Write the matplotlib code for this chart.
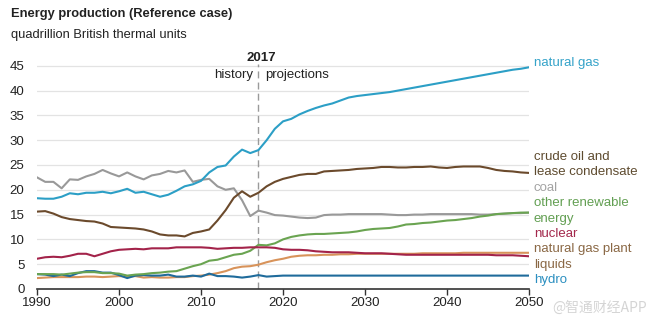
import matplotlib
matplotlib.use("Agg")
import matplotlib.pyplot as plt
import numpy as np

plt.rcParams['font.family'] = ['Liberation Sans', 'DejaVu Sans']

years = list(range(1990, 2051))

natural_gas = [18.3, 18.2, 18.2, 18.6, 19.3, 19.1, 19.4, 19.4, 19.6, 19.3,
               19.7, 20.2, 19.4, 19.6, 19.1, 18.6, 19.0, 19.8, 20.7, 21.1,
               21.8, 23.5, 24.6, 24.9, 26.7, 28.1, 27.4, 28.0,
               30.0, 32.3, 33.8, 34.3, 35.2, 35.9, 36.5, 37.0, 37.4, 38.0,
               38.6, 38.9, 39.1, 39.3, 39.5, 39.7, 40.0, 40.3, 40.6, 40.9,
               41.2, 41.5, 41.8, 42.1, 42.4, 42.7, 43.0, 43.3, 43.6, 43.9,
               44.2, 44.4, 44.7]

crude_oil = [15.6, 15.7, 15.2, 14.5, 14.1, 13.9, 13.7, 13.6, 13.2, 12.5,
             12.4, 12.3, 12.2, 12.0, 11.6, 11.0, 10.8, 10.8, 10.6, 11.3,
             11.6, 12.0, 13.8, 15.9, 18.4, 19.7, 18.6, 19.4,
             20.7, 21.6, 22.2, 22.6, 23.0, 23.2, 23.2, 23.7, 23.8, 23.9,
             24.0, 24.2, 24.3, 24.4, 24.6, 24.6, 24.5, 24.5, 24.6, 24.6,
             24.7, 24.5, 24.4, 24.6, 24.7, 24.7, 24.7, 24.4, 24.0, 23.8,
             23.7, 23.5, 23.4]

coal = [22.5, 21.6, 21.6, 20.3, 22.1, 22.0, 22.7, 23.2, 24.0, 23.3,
        22.7, 23.5, 22.7, 22.1, 22.9, 23.2, 23.8, 23.5, 23.9, 21.6,
        22.0, 22.2, 20.7, 20.0, 20.3, 17.9, 14.7, 15.8,
        15.4, 14.9, 14.8, 14.6, 14.4, 14.3, 14.4, 14.9, 15.0, 15.0,
        15.1, 15.1, 15.1, 15.1, 15.1, 15.0, 14.9, 14.9, 15.0, 15.0,
        15.1, 15.1, 15.1, 15.1, 15.1, 15.1, 15.0, 15.0, 15.1, 15.2,
        15.3, 15.3, 15.4]

other_renewable = [3.0, 3.0, 3.0, 2.9, 3.1, 3.3, 3.4, 3.4, 3.2, 3.2,
                   3.1, 2.7, 2.9, 3.0, 3.2, 3.3, 3.5, 3.6, 4.1, 4.6,
                   5.0, 5.7, 5.9, 6.4, 6.9, 7.1, 7.7, 8.9,
                   8.8, 9.2, 10.0, 10.5, 10.8, 11.0, 11.1, 11.1, 11.2, 11.3,
                   11.4, 11.6, 11.9, 12.1, 12.2, 12.3, 12.6, 13.0, 13.1, 13.3,
                   13.4, 13.6, 13.8, 13.9, 14.1, 14.3, 14.6, 14.8, 15.1, 15.2,
                   15.3, 15.4, 15.4]

nuclear = [6.1, 6.4, 6.5, 6.4, 6.7, 7.1, 7.1, 6.6, 7.1, 7.6,
           7.9, 8.0, 8.1, 8.0, 8.2, 8.2, 8.2, 8.4, 8.4, 8.4,
           8.4, 8.3, 8.1, 8.2, 8.3, 8.3, 8.4, 8.4,
           8.4, 8.3, 8.0, 7.9, 7.9, 7.8, 7.6, 7.5, 7.4, 7.4,
           7.4, 7.3, 7.2, 7.2, 7.2, 7.1, 7.0, 6.9, 6.9, 6.9,
           6.9, 6.9, 6.9, 6.9, 6.9, 6.9, 6.9, 6.9, 6.8, 6.8,
           6.8, 6.7, 6.6]

ngpl = [2.2, 2.3, 2.4, 2.4, 2.4, 2.4, 2.5, 2.5, 2.4, 2.5,
        2.6, 2.5, 2.6, 2.3, 2.4, 2.3, 2.3, 2.4, 2.4, 2.6,
        2.7, 2.9, 3.2, 3.6, 4.2, 4.5, 4.6, 4.9,
        5.4, 5.8, 6.1, 6.5, 6.7, 6.8, 6.8, 6.9, 6.9, 7.0,
        7.0, 7.1, 7.1, 7.1, 7.1, 7.1, 7.1, 7.1, 7.1, 7.2,
        7.2, 7.2, 7.2, 7.2, 7.3, 7.3, 7.3, 7.3, 7.3, 7.3,
        7.3, 7.3, 7.3]

hydro = [3.0, 2.9, 2.6, 2.9, 2.6, 3.2, 3.6, 3.6, 3.3, 3.3,
         2.8, 2.2, 2.7, 2.8, 2.7, 2.7, 2.9, 2.5, 2.5, 2.7,
         2.5, 3.1, 2.6, 2.6, 2.5, 2.3, 2.5, 2.8,
         2.5, 2.6, 2.7, 2.7, 2.7, 2.7, 2.7, 2.7, 2.7, 2.7,
         2.7, 2.7, 2.7, 2.7, 2.7, 2.7, 2.7, 2.7, 2.7, 2.7,
         2.7, 2.7, 2.7, 2.7, 2.7, 2.7, 2.7, 2.7, 2.7, 2.7,
         2.7, 2.7, 2.7]

series = [
    (natural_gas, '#2c9fc6'),
    (crude_oil, '#6b4a2c'),
    (coal, '#999999'),
    (other_renewable, '#6aa451'),
    (nuclear, '#a3234a'),
    (ngpl, '#d8935a'),
    (hydro, '#1f6b9b'),
]
labels = [
    ('natural gas', '#35a3c9', 45.6),
    ('crude oil and', '#5e4b2f', 26.6),
    ('lease condensate', '#5e4b2f', 23.5),
    ('coal', '#a3a3a3', 20.4),
    ('other renewable', '#629f52', 17.3),
    ('energy', '#629f52', 14.2),
    ('nuclear', '#a3284c', 11.1),
    ('natural gas plant', '#8a6845', 8.0),
    ('liquids', '#8a6845', 4.9),
    ('hydro', '#2b8fc0', 1.8),
]

fig = plt.figure(figsize=(6.53, 3.22), dpi=100)
ax = fig.add_axes([0.0567, 0.1025, 0.7535, 0.724])
ax.set_xlim(1990, 2050)
ax.set_ylim(0, 47)

for y in range(5, 50, 5):
    ax.axhline(y, color='#e3e3e3', lw=0.9, zorder=0)

order = [2, 5, 6, 3, 4, 1, 0]
for i in order:
    vals, col = series[i]
    ax.plot(years, vals, color=col, lw=1.5, zorder=3, solid_joinstyle='round')

ax.plot([2017, 2017], [0, 45.3], color='#9a9a9a', lw=1.0, ls=(0, (5, 3)), zorder=2)
ax.text(2017.3, 46.6, '2017', ha='center', va='center', fontsize=9.5, fontweight='bold', color='#222222')
ax.text(2016.3, 43.1, 'history', ha='right', va='center', fontsize=9.5, color='#222222')
ax.text(2017.8, 43.1, 'projections', ha='left', va='center', fontsize=9.5, color='#222222')

for txt, col, y in labels:
    ax.text(2050.6, y, txt, ha='left', va='center', fontsize=9.5, color=col, clip_on=False)

for s in ['top', 'right', 'left']:
    ax.spines[s].set_visible(False)
ax.spines['bottom'].set_color('#333333')
ax.spines['bottom'].set_linewidth(1.2)
ax.set_xticks([1990, 2000, 2010, 2020, 2030, 2040, 2050])
ax.set_yticks(range(0, 50, 5))
ax.tick_params(axis='x', length=4, width=1, color='#333333', labelsize=9.5, labelcolor='#222222', pad=2)
ax.tick_params(axis='y', length=0, labelsize=9.5, labelcolor='#222222', pad=9)

fig.text(0.017, 0.955, 'Energy production (Reference case)', fontsize=9.3, fontweight='bold',
         color='#222222', va='center', ha='left')
fig.text(0.017, 0.89, 'quadrillion British thermal units', fontsize=9.3,
         color='#222222', va='center', ha='left')

fig.text(0.99, 0.045, '@智通财经APP', fontsize=10, color='#d0d0d0', ha='right', va='center',
         family=['Noto Sans CJK SC', 'DejaVu Sans'], alpha=0.9)

fig.savefig('out.png', dpi=100)
